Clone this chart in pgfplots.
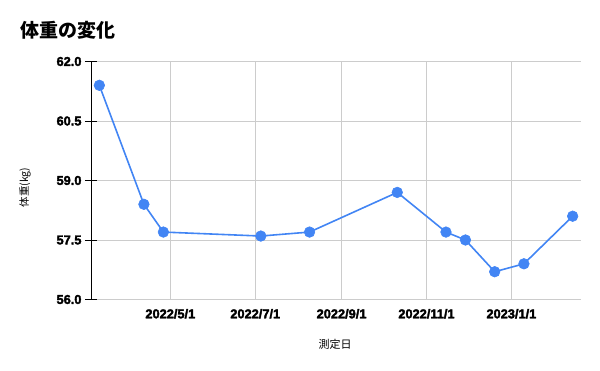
\documentclass[border=0pt]{standalone}
\usepackage{pgfplots}
\pgfplotsset{compat=1.18}
\usepgfplotslibrary{dateplot}
\usepackage{fontspec}
\setmainfont{Liberation Sans}
\newfontfamily\cjk{Noto Sans CJK JP}
\newfontfamily\heavy{Liberation Sans Bold}[FakeBold=2.5]
\definecolor{gblue}{HTML}{4285F4}
\definecolor{gridgray}{HTML}{CCCCCC}
\begin{document}
\begin{tikzpicture}
\path (0,0) rectangle (600bp,371bp);
\begin{axis}[
  at={(91bp,71.5bp)}, anchor=south west,
  scale only axis, width=490bp, height=238bp,
  date coordinates in=x,
  xmin=2022-03-05, xmax=2023-02-20,
  ymin=56, ymax=62,
  xtick={2022-05-01,2022-07-01,2022-09-01,2022-11-01,2023-01-01},
  xticklabels={2022/5/1,2022/7/1,2022/9/1,2022/11/1,2023/1/1},
  ytick={56,57.5,59,60.5,62},
  yticklabels={56.0,57.5,59.0,60.5,62.0},
  grid=major, major grid style={gridgray, line width=0.8bp},
  axis y line=left, axis x line=bottom,
  y axis line style={black, line width=0.8bp, -},
  x axis line style={draw=none, -},
  x tick style={draw=none},
  y tick style={black, line width=0.8bp},
  tick align=center, major tick length=12bp,
  ticklabel style={font=\heavy\fontsize{12.8bp}{14bp}\selectfont},
  clip=false,
]
\addplot[gblue, line width=1.6bp, mark=*, mark size=5.3bp,
  mark options={solid, fill=gblue, draw=gblue, line width=0.6bp}]
  coordinates {
    (2022-03-11,61.4)
    (2022-04-12,58.4)
    (2022-04-26,57.7)
    (2022-07-05,57.6)
    (2022-08-09,57.7)
    (2022-10-11,58.7)
    (2022-11-15,57.7)
    (2022-11-29,57.5)
    (2022-12-20,56.7)
    (2023-01-10,56.9)
    (2023-02-14,58.1)
  };
\end{axis}
\node[font=\cjk\bfseries\fontsize{19bp}{21bp}\selectfont, anchor=west, inner sep=0pt] at (20bp,340.5bp) {体重の変化};
\node[font=\cjk\fontsize{11bp}{13bp}\selectfont] at (335bp,26.7bp) {測定日};
\node[font=\cjk\fontsize{10.5bp}{12bp}\selectfont, rotate=90] at (25bp,183.5bp) {体重(kg)};
\end{tikzpicture}
\end{document}
